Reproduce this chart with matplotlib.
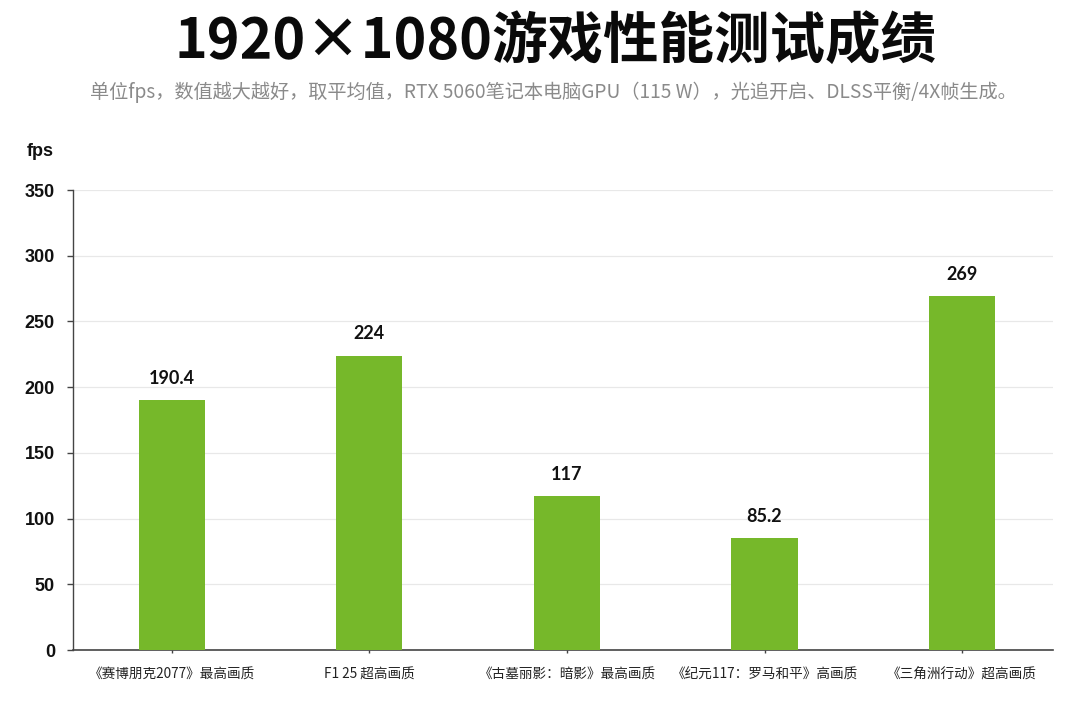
import matplotlib
matplotlib.use('Agg')
import matplotlib.pyplot as plt

plt.rcParams['font.family'] = ['Noto Sans CJK SC', 'DejaVu Sans']

# 数据
games = ['《赛博朋克2077》最高画质', 'F1 25 超高画质', '《古墓丽影：暗影》最高画质',
         '《纪元117：罗马和平》高画质', '《三角洲行动》超高画质']
fps = [190.4, 224, 117, 85.2, 269]
fps_labels = ['190.4', '224', '117', '85.2', '269']
y_ticks = [0, 50, 100, 150, 200, 250, 300, 350]

green = '#76b82a'

fig = plt.figure(figsize=(10.8, 7.2), dpi=100)
ax = fig.add_axes([0.0676, 0.0972, 0.9074, 0.6389])

x = range(len(games))
ax.bar(x, fps, width=0.335, color=green, zorder=3)

for i, v in enumerate(fps):
    ax.text(i, v + 10, fps_labels[i], ha='center', va='bottom',
            fontsize=13, fontweight='bold', color='#111111',
            family=['Lato', 'DejaVu Sans'])

ax.set_ylim(0, 350)
ax.set_xlim(-0.5, 4.46)
ax.set_yticks(y_ticks)
ax.set_yticklabels([str(t) for t in y_ticks], fontsize=13, fontweight='bold',
                   family=['Liberation Sans', 'DejaVu Sans'], color='#111111')
ax.set_xticks(list(x))
ax.set_xticklabels(games, fontsize=9.8, color='#222222')

ax.grid(axis='y', color='#e8e8e8', linewidth=0.9, zorder=0)
for s in ['top', 'right']:
    ax.spines[s].set_visible(False)
ax.spines['left'].set_color('#444444')
ax.spines['bottom'].set_color('#444444')
ax.spines['left'].set_linewidth(1.0)
ax.spines['bottom'].set_linewidth(1.2)
ax.tick_params(axis='y', length=4, width=1, color='#444444', pad=9)
ax.tick_params(axis='x', length=2, width=1, color='#444444', pad=11)

fig.text(0.025, 0.783, 'fps', fontsize=13, fontweight='bold',
         family=['Liberation Sans', 'DejaVu Sans'], color='#111111')

fig.text(0.514, 0.942, '1920×1080游戏性能测试成绩', ha='center', va='center',
         fontsize=40, fontweight='bold', color='#0a0a0a')
fig.text(0.512, 0.872, '单位fps，数值越大越好，取平均值，RTX 5060笔记本电脑GPU（115 W），光追开启、DLSS平衡/4X帧生成。',
         ha='center', va='center', fontsize=13.8, color='#8a8a8a')

fig.savefig('out.png', dpi=100, facecolor='white')
